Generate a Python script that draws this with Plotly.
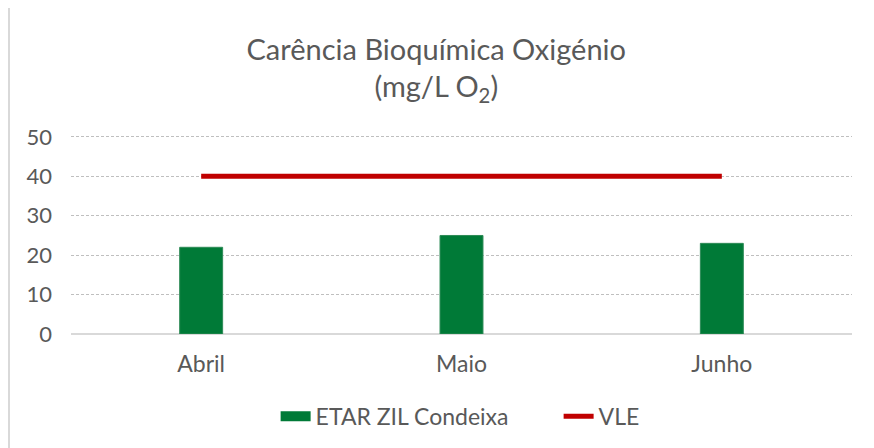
import plotly.graph_objects as go

months = ['Abril', 'Maio', 'Junho']
etar_values = [22, 25, 23]
vle_values = [40, 40, 40]

text_color = '#595959'
font_family = 'Lato, "Open Sans", sans-serif'
green = '#007a37'
red = '#c00000'

fig = go.Figure()

fig.add_trace(go.Bar(
    x=months, y=etar_values, name='ETAR ZIL Condeixa',
    marker=dict(color=green, line=dict(color='#2e8b57', width=1)),
    width=0.165, showlegend=False, legendgroup='etar',
))

# legend entry with a wide swatch like the original
fig.add_trace(go.Scatter(
    x=[None], y=[None], name='ETAR ZIL Condeixa', mode='lines',
    line=dict(color=green, width=13), legendgroup='etar',
))

fig.add_trace(go.Scatter(
    x=months, y=vle_values, name='VLE', mode='lines',
    line=dict(color=red, width=5),
))

# outer chart frame
fig.add_shape(
    type='rect', xref='paper', yref='paper',
    x0=-0.0794, x1=1.0205, y0=-0.75, y1=1.65,
    line=dict(color='#d9d9d9', width=2), layer='below',
)

fig.update_layout(
    width=874, height=448,
    margin=dict(l=63, r=30, t=125, b=122),
    paper_bgcolor='white', plot_bgcolor='white',
    font=dict(family=font_family, color=text_color, size=22),
    title=dict(
        text='Carência Bioquímica Oxigénio<br>(mg/L O<sub>2</sub>)',
        xref='container', x=0.49, xanchor='center',
        yref='container', y=0.885, yanchor='top',
        font=dict(size=29, color=text_color),
    ),
    showlegend=True,
    legend=dict(
        orientation='h', x=0.262, xanchor='left', y=-0.41, yanchor='middle',
        font=dict(size=23, color=text_color),
        traceorder='normal', itemclick=False, entrywidth=238,
    ),
    xaxis=dict(
        showgrid=False, showline=False, ticks='',
        tickfont=dict(size=23, color=text_color),
        ticklabelstandoff=14, automargin=False,
    ),
    yaxis=dict(
        range=[0, 51], tickvals=[0, 10, 20, 30, 40, 50],
        showgrid=True, gridcolor='#bfbfbf', griddash='3px,2px', gridwidth=1,
        zeroline=True, zerolinecolor='#d9d9d9', zerolinewidth=2,
        showline=False, ticks='',
        tickfont=dict(size=22, color=text_color),
        ticklabelstandoff=18, automargin=False,
    ),
)

fig.write_html('out.html')
